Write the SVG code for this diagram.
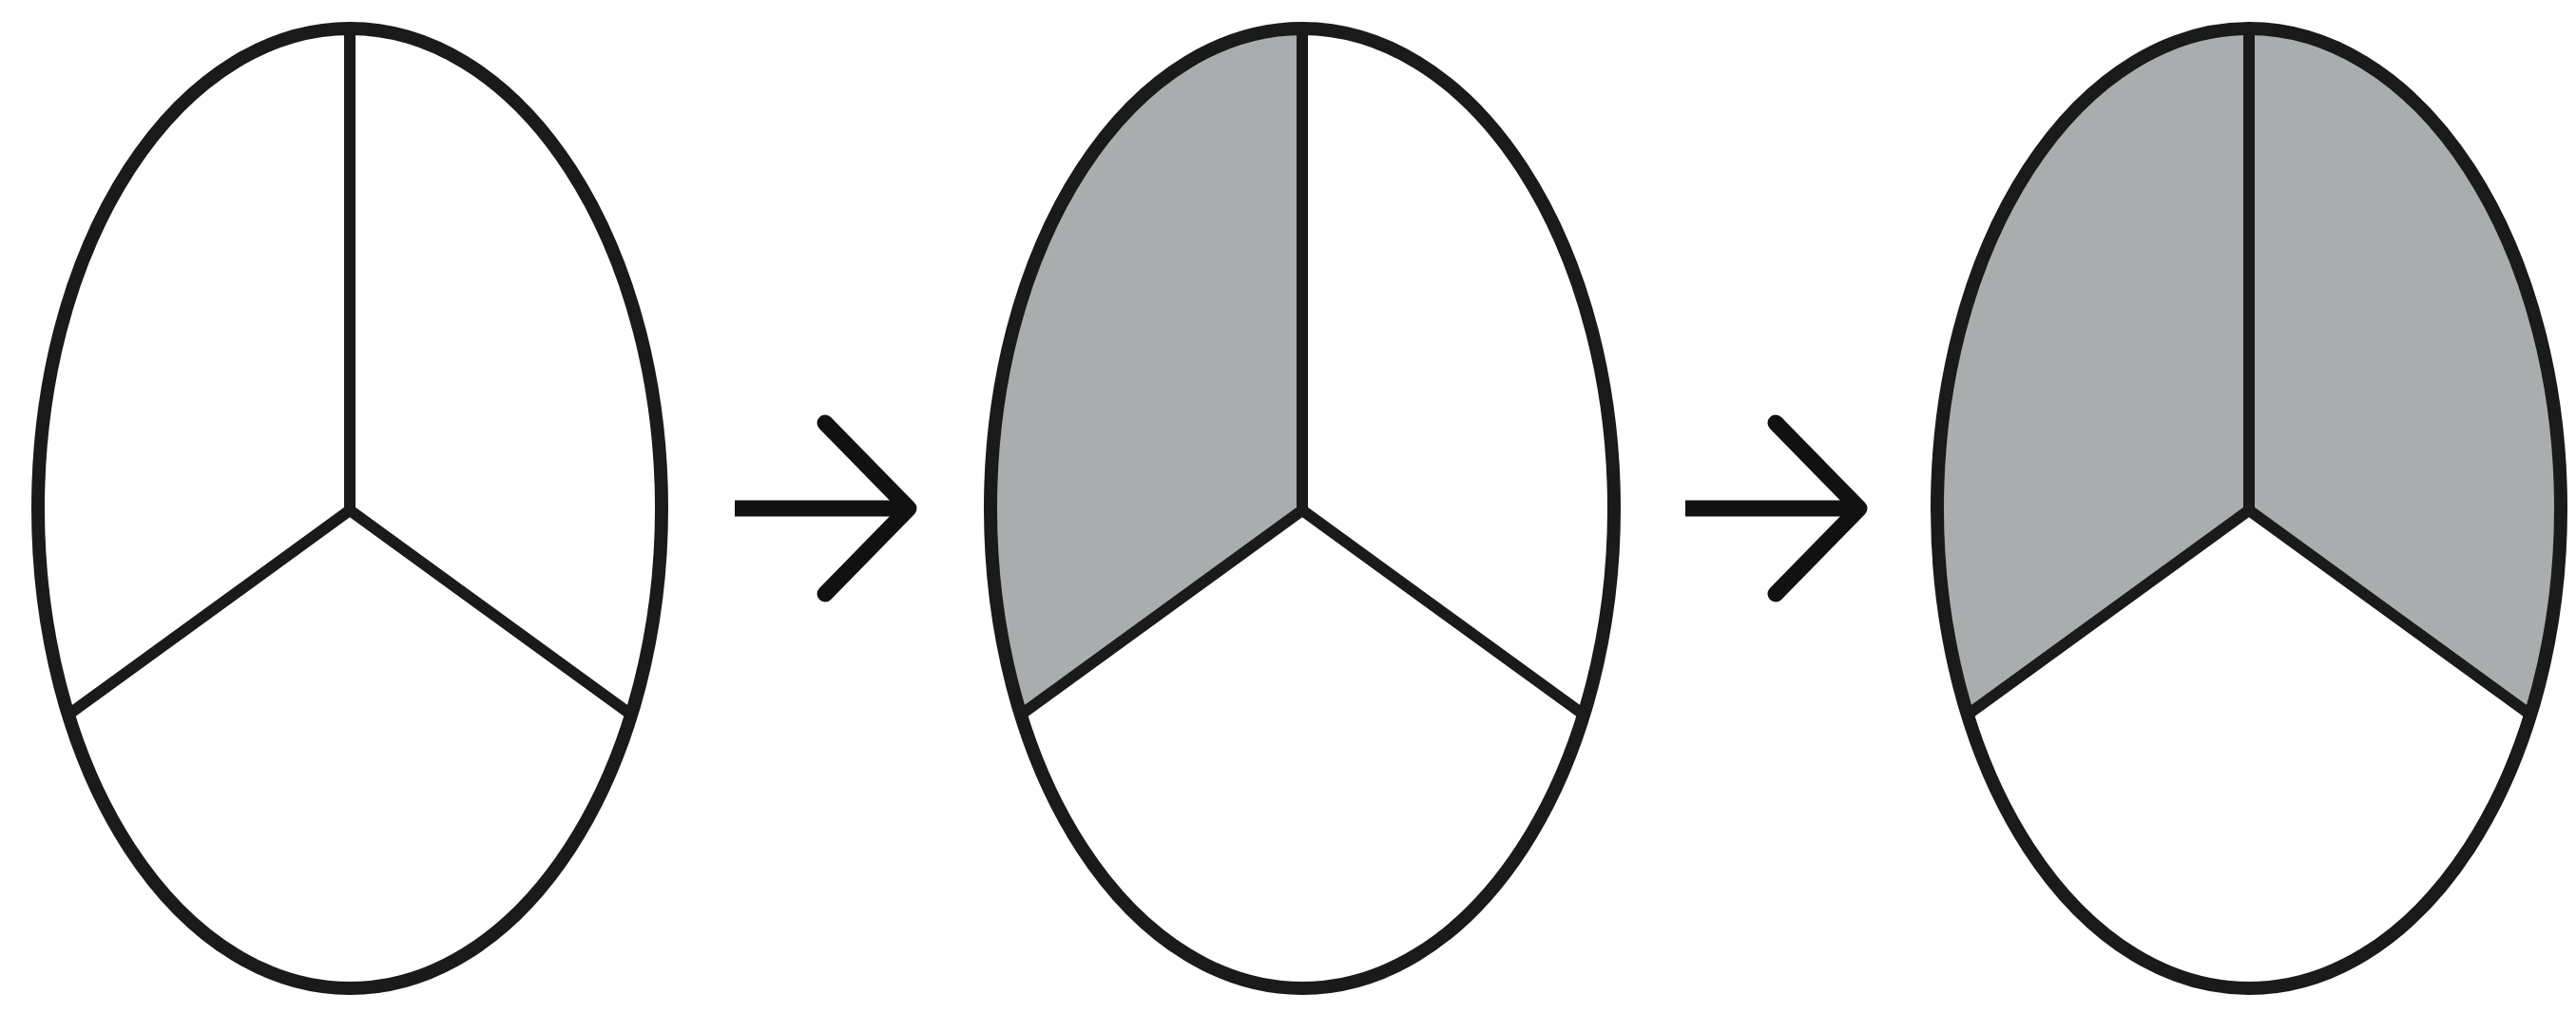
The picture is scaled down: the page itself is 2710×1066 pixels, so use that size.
<svg xmlns="http://www.w3.org/2000/svg" width="2710" height="1066" viewBox="0 0 2710 1066">
<style>
.outline{fill:none;stroke:#1a1a1a;stroke-width:14}
.spoke{fill:none;stroke:#1a1a1a;stroke-width:12;stroke-linecap:round}
.shade{fill:#aaadae;stroke:none}
.arrow{fill:none;stroke:#111;stroke-width:17}
</style>
<defs>
<marker id="chev" markerUnits="userSpaceOnUse" markerWidth="220" markerHeight="240" viewBox="-110 -120 220 240" refX="0" refY="0" orient="auto">
<path d="M-88,-90 L0,0 L-88,90" fill="none" stroke="#111" stroke-width="17" stroke-linejoin="round" stroke-linecap="round"/>
</marker>
</defs>
<rect width="2710" height="1066" fill="#fff"/>
<g id="node1">
<ellipse class="outline" cx="368" cy="535" rx="328" ry="505"/>
<path class="spoke" d="M368,30 L368,537 M72,752 L368,537 L664,752"/>
</g>
<g id="node2">
<path class="shade" d="M1370,537 L1074,752 A328,505 0 0 1 1370,30 Z"/>
<ellipse class="outline" cx="1370" cy="535" rx="328" ry="505"/>
<path class="spoke" d="M1370,30 L1370,537 M1074,752 L1370,537 L1666,752"/>
</g>
<g id="node3">
<path class="shade" d="M2366,537 L2070,752 A328,505 0 0 1 2366,30 A328,505 0 0 1 2662,752 Z"/>
<ellipse class="outline" cx="2366" cy="535" rx="328" ry="505"/>
<path class="spoke" d="M2366,30 L2366,537 M2070,752 L2366,537 L2662,752"/>
</g>
<g id="connectors">
<line class="arrow" x1="773" y1="535" x2="956" y2="535" marker-end="url(#chev)"/>
<line class="arrow" x1="1773" y1="535" x2="1956" y2="535" marker-end="url(#chev)"/>
</g>
</svg>
